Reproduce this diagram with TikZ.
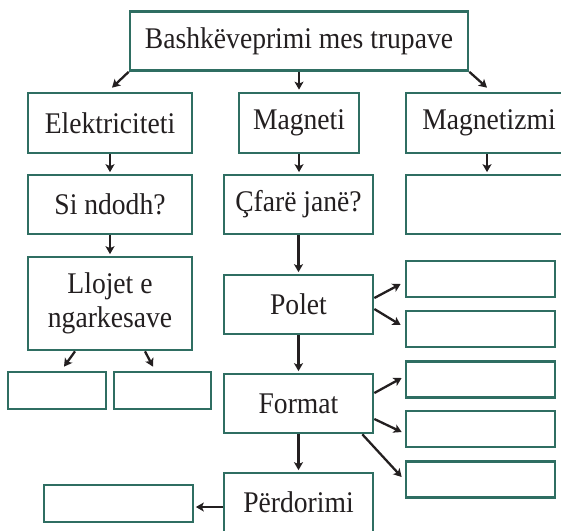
\documentclass[tikz,border=0pt]{standalone}
\usepackage{fontspec}
\setmainfont{Liberation Serif}[FakeStretch=0.92]
\usetikzlibrary{arrows.meta}
\definecolor{teal}{RGB}{47,110,98}
\definecolor{ink}{RGB}{35,31,32}
\tikzset{
  box/.style={draw=teal, line width=2.7pt, fill=white, inner sep=0pt, text=ink,
    font=\fontsize{30}{34}\selectfont, align=center},
  arr/.style={draw=ink, line width=2.3pt, -{Stealth[length=8pt,width=9pt,inset=2pt]}}
}
\begin{document}
\begin{tikzpicture}[x=1pt,y=-1pt]
\useasboundingbox (0,0) rectangle (561,530);
\clip (0,0) rectangle (561,530);
% nodes
\node[box, minimum width=338pt, minimum height=59pt] (top) at (299,41) {Bashkëveprimi mes trupave};
\node[box, minimum width=164pt, minimum height=60pt] (elek) at (110,123) {Elektriciteti};
\node[box, minimum width=120pt, minimum height=60pt] (mag) at (299,123) {Magneti};
\node[box, minimum width=166pt, minimum height=60pt] (mgz) at (489,123) {Magnetizmi};
\node[box, minimum width=164pt, minimum height=59pt] (si) at (110,204.5) {Si ndodh?};
\node[box, minimum width=149pt, minimum height=59pt] (cf) at (298.5,204.5) {Çfarë janë?};
\node[box, minimum width=166pt, minimum height=59pt] (mb) at (489,204.5) {};
\node[box, minimum width=164pt, minimum height=93pt] (ll) at (110,303.5) {Llojet e\\ngarkesave};
\node[box, minimum width=149pt, minimum height=59pt] (pol) at (298.5,304.5) {Polet};
\node[box, minimum width=149pt, minimum height=36pt] (p1) at (480.5,279) {};
\node[box, minimum width=149pt, minimum height=36pt] (p2) at (480.5,329) {};
\node[box, minimum width=98pt, minimum height=37pt] (la) at (57,390.5) {};
\node[box, minimum width=97pt, minimum height=37pt] (lb) at (162.5,390.5) {};
\node[box, minimum width=149pt, minimum height=59pt] (fmt) at (298.5,403.5) {Format};
\node[box, minimum width=149pt, minimum height=36pt] (f1) at (480.5,379.5) {};
\node[box, minimum width=149pt, minimum height=36pt] (f2) at (480.5,429) {};
\node[box, minimum width=149pt, minimum height=36pt] (f3) at (480.5,479.5) {};
\node[box, minimum width=149pt, minimum height=59pt] (perd) at (298.5,502.5) {Përdorimi};
\node[box, minimum width=149pt, minimum height=37pt] (lbk) at (118.5,503.5) {};
% connectors
\draw[arr] (top.south west) -- ([xshift=2pt,yshift=4pt]elek.north);
\draw[arr] (top.south) -- ([yshift=2pt]mag.north);
\draw[arr] (top.south east) -- ([xshift=-2pt,yshift=4pt]mgz.north);
\draw[arr] (elek.south) -- ([yshift=1.5pt]si.north);
\draw[arr] (mag.south) -- ([yshift=1.5pt]mag.south |- cf.north);
\draw[arr] ([xshift=-2pt]mgz.south) -- ([xshift=-2pt,yshift=1.5pt]mb.north);
\draw[arr] (si.south) -- ([yshift=1.5pt]ll.north);
\draw[arr] (cf.south) -- ([yshift=1.5pt]pol.north);
\draw[arr] ([yshift=6.5pt]pol.east) -- ([xshift=-4pt,yshift=-5pt]p1.west);
\draw[arr] ([yshift=-4.5pt]pol.east) -- ([xshift=-4pt,yshift=4pt]p2.west);
\draw[arr] (pol.south) -- ([yshift=1.5pt]fmt.north);
\draw[arr] ([xshift=-35pt]ll.south) -- ([xshift=7pt,yshift=4pt]la.north);
\draw[arr] ([xshift=35pt]ll.south) -- ([xshift=-9.5pt,yshift=4pt]lb.north);
\draw[arr] ([yshift=10.5pt]fmt.east) -- ([xshift=-3pt,yshift=1.5pt]f1.west);
\draw[arr] ([yshift=-15.5pt]fmt.east) -- ([xshift=-3pt,yshift=-3pt]f2.west);
\draw[arr] ([xshift=-12pt]fmt.south east) -- ([xshift=-3pt,yshift=2.5pt]f3.west);
\draw[arr] (fmt.south) -- ([yshift=1.5pt]perd.north);
\draw[arr] ([yshift=-4.5pt]perd.west) -- ([xshift=1.5pt,yshift=-3.5pt]lbk.east);
\end{tikzpicture}
\end{document}
